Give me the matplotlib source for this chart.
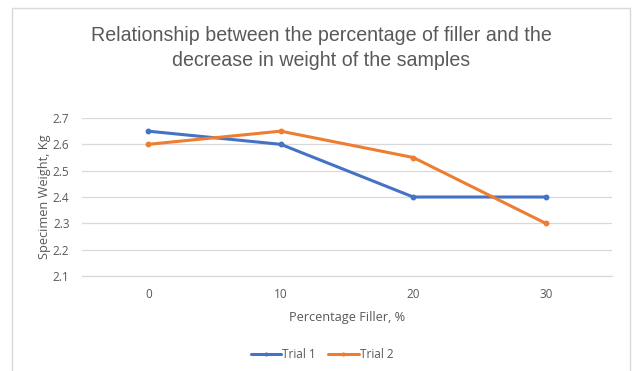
import matplotlib
matplotlib.use("Agg")
import matplotlib.pyplot as plt
from matplotlib.patches import Rectangle

categories = ["0", "10", "20", "30"]
trial1 = [2.65, 2.60, 2.40, 2.40]
trial2 = [2.60, 2.65, 2.55, 2.30]
yticks = [2.1, 2.2, 2.3, 2.4, 2.5, 2.6, 2.7]

blue = "#4472C4"
orange = "#ED7D31"
text_gray = "#595959"
grid_gray = "#D9D9D9"

fig = plt.figure(figsize=(6.35, 3.71), dpi=100)
fig.patch.set_facecolor("white")

# chart frame
fig.patches.append(Rectangle((12 / 635, -0.05), (630 - 12) / 635, 1 - 8 / 371 + 0.05,
                             transform=fig.transFigure, fill=False,
                             edgecolor="#D9D9D9", linewidth=1.0))

ax = fig.add_axes([82 / 635, 1 - 276 / 371, (612 - 82) / 635, (276 - 118) / 371])
x = list(range(len(categories)))
ax.plot(x, trial1, color=blue, linewidth=2.2, marker="o", markersize=3.2,
        label="Trial 1", solid_joinstyle="round", solid_capstyle="round")
ax.plot(x, trial2, color=orange, linewidth=2.2, marker="o", markersize=3.2,
        label="Trial 2", solid_joinstyle="round", solid_capstyle="round")

ax.set_xlim(-0.5, len(categories) - 0.5)
ax.set_ylim(2.1, 2.7)
ax.set_yticks(yticks)
ax.set_yticklabels([f"{v:.1f}" for v in yticks])
ax.set_xticks(x)
ax.set_xticklabels(categories)
ax.yaxis.grid(True, color=grid_gray, linewidth=0.9)
ax.set_axisbelow(True)
for s in ["top", "right", "left"]:
    ax.spines[s].set_visible(False)
ax.spines["bottom"].set_color(grid_gray)
ax.spines["bottom"].set_linewidth(0.9)
ax.tick_params(axis="both", length=0, colors=text_gray, labelsize=8.5)
ax.tick_params(axis="y", pad=9)
ax.tick_params(axis="x", pad=9)
for lbl in ax.get_xticklabels() + ax.get_yticklabels():
    lbl.set_family("Open Sans")

ax.set_xlabel("Percentage Filler, %", family="Open Sans", fontsize=9.2, color=text_gray, labelpad=7)
ax.set_ylabel("Specimen Weight, Kg", family="Open Sans", fontsize=9.2, color=text_gray, labelpad=1)

fig.text(321 / 635, 1 - 26 / 371,
         "Relationship between the percentage of filler and the\ndecrease in weight of the samples",
         ha="center", va="top", family="Liberation Sans", fontsize=14.1,
         color=text_gray, linespacing=1.38)

leg = fig.legend(loc="center", bbox_to_anchor=(322 / 635, 1 - 355 / 371), ncol=2,
                 frameon=False, handlelength=2.6, columnspacing=1.0,
                 handletextpad=0.1, markerscale=0.6,
                 prop={"family": "Open Sans", "size": 8.5})
for t in leg.get_texts():
    t.set_color(text_gray)

fig.savefig("out.png", dpi=100, facecolor="white")
